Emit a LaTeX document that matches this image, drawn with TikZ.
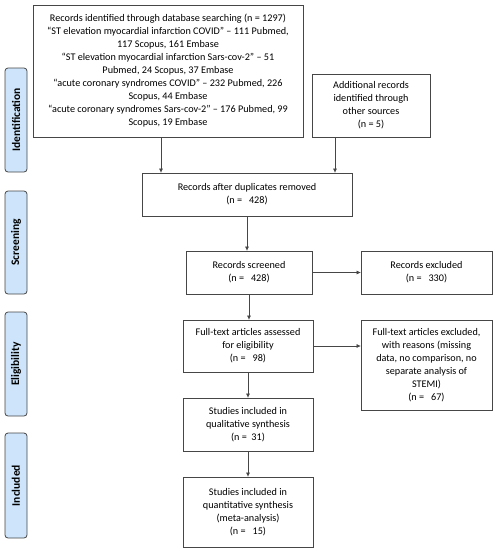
\documentclass[tikz,border=0pt]{standalone}
\usepackage{fontspec}
\setmainfont{Carlito}
\usepackage{tikz}
\usetikzlibrary{arrows.meta}
\definecolor{phase}{RGB}{205,228,250}
\definecolor{edge}{RGB}{70,70,70}

\begin{document}
\begin{tikzpicture}[x=1pt,y=-1pt,font=\fontsize{10.2}{13}\selectfont]
\tikzstyle{box}=[draw=edge,line width=0.8pt,align=center,inner sep=2pt,text=black]
\tikzstyle{phase}=[draw=edge,line width=0.8pt,fill=phase,rounded corners=3pt,rotate=90,minimum height=22pt,inner sep=0pt,font=\fontsize{11.5}{12}\selectfont\bfseries]
\tikzstyle{arr}=[draw=edge,line width=0.7pt,-{Triangle[length=4pt,width=3.5pt]}]
\useasboundingbox (0,0) rectangle (495,550);
% phases
\node[phase,minimum width=104pt] (id) at (16,120) {Identification};
\node[phase,minimum width=103pt] (sc) at (16,242.5) {Screening};
\node[phase,minimum width=104pt] (el) at (16,364) {Eligibility};
\node[phase,minimum width=105pt] (in) at (16,485.5) {Included};
% boxes
\node[box,minimum width=270pt,minimum height=132pt] (1) at (168,71) {Records identified through database searching (n = 1297)\\``ST elevation myocardial infarction COVID'' -- 111 Pubmed,\\117 Scopus, 161 Embase\\``ST elevation myocardial infarction Sars-cov-2'' -- 51\\Pubmed, 24 Scopus, 37 Embase\\``acute coronary syndromes COVID'' -- 232 Pubmed, 226\\Scopus, 44 Embase\\``acute coronary syndromes Sars-cov-2'' -- 176 Pubmed, 99\\Scopus, 19 Embase};
\node[box,minimum width=118pt,minimum height=63pt] (2) at (371,105.5) {Additional records\\identified through\\other sources\\(n = 5)};
\node[box,minimum width=210pt,minimum height=43pt] (3) at (247,194.5) {Records after duplicates removed\\(n = \ \ 428)};
\node[box,minimum width=126pt,minimum height=43pt] (4) at (249,272.5) {Records screened\\(n = \ \ 428)};
\node[box,minimum width=131pt,minimum height=43pt] (5) at (426.5,272.5) {Records excluded\\(n = \ \ 330)};
\node[box,minimum width=130pt,minimum height=52pt] (6) at (248,346) {Full-text articles assessed\\for eligibility\\(n = \ \ 98)};
\node[box,minimum width=131pt,minimum height=90pt] (7) at (426.5,365) {Full-text articles excluded,\\with reasons (missing\\data, no comparison, no\\separate analysis of\\STEMI)\\(n = \ \ 67)};
\node[box,minimum width=130pt,minimum height=53pt] (8) at (248,424.5) {Studies included in\\qualitative synthesis\\(n = \ 31)};
\node[box,minimum width=130pt,minimum height=70pt] (9) at (248,512) {Studies included in\\quantitative synthesis\\(meta-analysis)\\(n = \ \ 15)};
% arrows
\draw[arr] ([xshift=-7pt]1.south) -- ([xshift=-7pt]1.south |- 3.north);
\draw[arr] ([xshift=-36pt]2.south) -- ([xshift=-36pt]2.south |- 3.north);
\draw[arr] (3.south) -- (3.south |- 4.north);
\draw[arr] (4.east) -- (5.west);
\draw[arr] (4.south) -- (4.south |- 6.north);
\draw[arr] (6.east) -- (6.east -| 7.west);
\draw[arr] (6.south) -- (8.north);
\draw[arr] (8.south) -- (9.north);
\end{tikzpicture}
\end{document}
